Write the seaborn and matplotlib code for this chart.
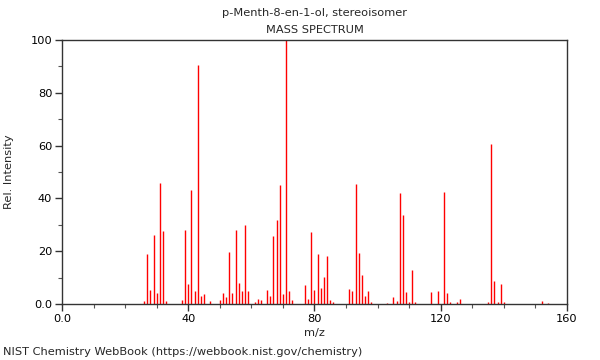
import numpy as np
import matplotlib
matplotlib.use("Agg")
import matplotlib.pyplot as plt
from matplotlib.ticker import MultipleLocator, FixedLocator
import seaborn as sns

# peaks
mz = [26, 27, 28, 29, 30, 31, 32, 33, 38, 39, 40, 41, 42, 43, 44, 45, 47,
      50, 51, 52, 53, 54, 55, 56, 57, 58, 59, 61, 62, 63, 65, 66, 67, 68, 69,
      70, 71, 72, 73, 77, 78, 79, 80, 81, 82, 83, 84, 85, 86, 91, 92, 93, 94,
      95, 96, 97, 98, 103, 105, 106, 107, 108, 109, 110, 111, 112, 117, 119,
      121, 122, 123, 125, 126, 135, 136, 137, 138, 139, 140, 152, 154]
intensity = [1.0, 19, 5.3, 26, 4, 45.7, 27.6, 1.0, 1.5, 28, 7.6, 43, 5, 90.5, 3, 3.8, 1.3,
             1.5, 4, 2.5, 19.8, 4.3, 28, 7.8, 4.9, 30, 4.9, 0.9, 2, 1.5, 5.3, 3, 25.8, 31.8, 45,
             3.7, 100, 4.9, 1.5, 7.2, 2, 27.1, 5.3, 18.8, 6.2, 10.4, 18.2, 1.5, 0.8, 5.8, 4.9, 45.5, 19.2,
             11, 3.2, 4.9, 0.8, 0.5, 2.8, 1.3, 41.9, 33.7, 4.7, 0.8, 13, 0.8, 4.7, 4.9,
             42.5, 4.3, 0.8, 0.8, 1.8, 0.8, 60.5, 8.8, 0.8, 7.6, 0.8, 1.2, 0.5]

title = "p-Menth-8-en-1-ol, stereoisomer"
subtitle = "MASS SPECTRUM"
footer = "NIST Chemistry WebBook (https://webbook.nist.gov/chemistry)"

x_ticks = [0, 40, 80, 120, 160]
x_labels = ["0.0", "40", "80", "120", "160"]
y_ticks = [0, 20, 40, 60, 80, 100]
y_labels = ["0.0", "20", "40", "60", "80", "100"]

sns.set_theme(style="ticks")
plt.rcParams['font.family'] = ['DejaVu Sans']

fig = plt.figure(figsize=(6, 3.6), dpi=100)
ax = fig.add_axes([0.1033, 0.1556, 0.8417, 0.7333])

ax.vlines(mz, 0, intensity, colors="#ff0000", linewidth=1.0)

ax.set_xlim(0, 160)
ax.set_ylim(0, 100)
ax.xaxis.set_major_locator(FixedLocator(x_ticks))
ax.set_xticklabels(x_labels)
ax.yaxis.set_major_locator(FixedLocator(y_ticks))
ax.set_yticklabels(y_labels)
ax.xaxis.set_minor_locator(MultipleLocator(10))
ax.yaxis.set_minor_locator(MultipleLocator(10))
ax.tick_params(axis="both", which="major", direction="out", length=5, width=1,
               color="#333333", labelsize=8.2, pad=2, labelcolor="black")
ax.tick_params(axis="both", which="minor", direction="out", length=3, width=0.8,
               color="#555555")

for s in ax.spines.values():
    s.set_visible(True)
    s.set_color("#333333")
    s.set_linewidth(1.0)

ax.set_xlabel("m/z", fontsize=8.2, labelpad=3)
ax.set_ylabel("Rel. Intensity", fontsize=8.2, labelpad=12)

cx = (62 + 567) / 2 / 600
fig.text(cx, 1 - 13 / 360, title, ha="center", va="center", fontsize=8.2)
fig.text(cx, 1 - 30 / 360, subtitle, ha="center", va="center", fontsize=8.2)
fig.text(3 / 600, 1 - 352 / 360, footer, ha="left", va="center", fontsize=8.2)

fig.savefig("out.png", dpi=100, facecolor="white")
